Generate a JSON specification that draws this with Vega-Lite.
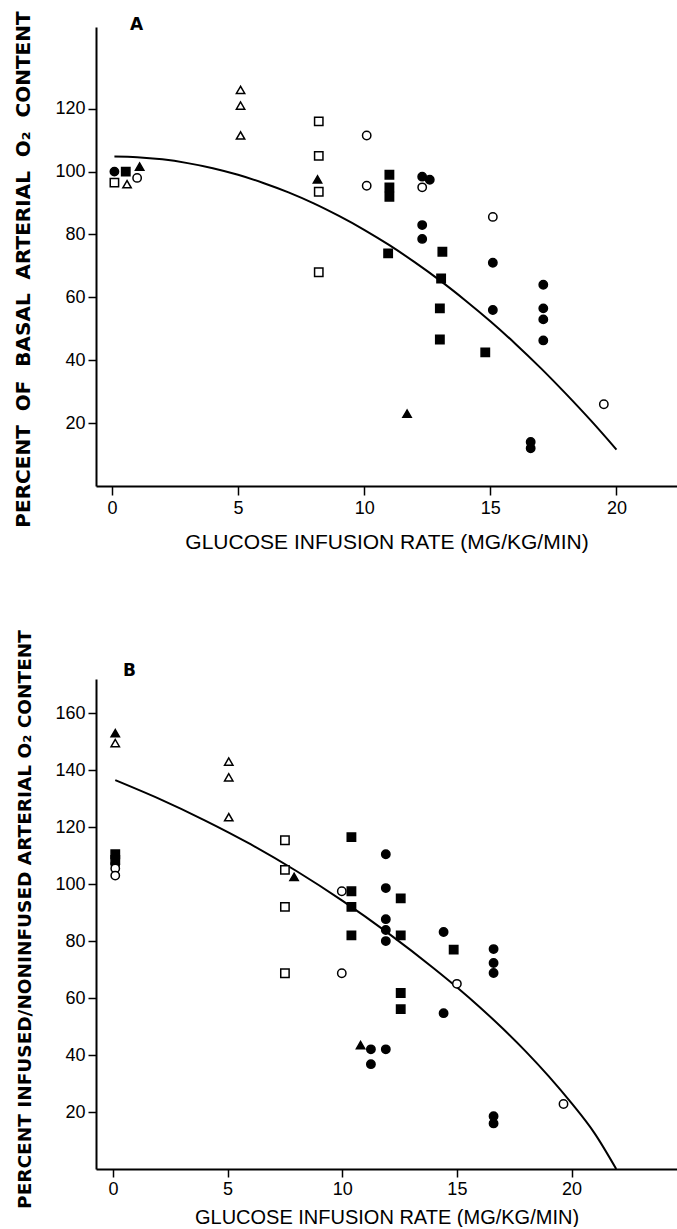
{
  "$schema": "https://vega.github.io/schema/vega-lite/v6.json",
  "background": "white",
  "padding": {"left": 12, "top": 10, "right": 0, "bottom": 0},
  "bounds": "flush",
  "spacing": 193,
  "config": {
    "view": {"stroke": null},
    "axis": {
      "grid": false,
      "domainColor": "black",
      "domainWidth": 2,
      "tickColor": "black",
      "tickWidth": 1.5,
      "labelColor": "black",
      "titleColor": "black",
      "labelFont": "Liberation Sans",
      "labelFontSize": 18,
      "labelFlush": false,
      "labelOverlap": false
    }
  },
  "datasets": {
    "curveA": [
      {"x": 0.1, "y": 104.8}, {"x": 1, "y": 104.6}, {"x": 2, "y": 103.9}, {"x": 3, "y": 102.7},
      {"x": 4, "y": 101.1}, {"x": 5, "y": 99.0}, {"x": 6, "y": 96.4}, {"x": 7, "y": 93.4},
      {"x": 8, "y": 89.9}, {"x": 9, "y": 85.9}, {"x": 10, "y": 81.5}, {"x": 11, "y": 76.6},
      {"x": 12, "y": 71.2}, {"x": 13, "y": 65.4}, {"x": 14, "y": 59.1}, {"x": 15, "y": 52.4},
      {"x": 16, "y": 45.2}, {"x": 17, "y": 37.5}, {"x": 18, "y": 29.3}, {"x": 19, "y": 20.7},
      {"x": 20, "y": 11.6}
    ],
    "ptsA": [
      {"x": 0.1, "y": 100, "shape": "circle", "fill": "filled"},
      {"x": 12.3, "y": 98.4, "shape": "circle", "fill": "filled"},
      {"x": 12.6, "y": 97.4, "shape": "circle", "fill": "filled"},
      {"x": 12.3, "y": 83, "shape": "circle", "fill": "filled"},
      {"x": 12.3, "y": 78.6, "shape": "circle", "fill": "filled"},
      {"x": 15.1, "y": 71, "shape": "circle", "fill": "filled"},
      {"x": 15.1, "y": 56, "shape": "circle", "fill": "filled"},
      {"x": 17.1, "y": 64, "shape": "circle", "fill": "filled"},
      {"x": 17.1, "y": 56.5, "shape": "circle", "fill": "filled"},
      {"x": 17.1, "y": 53, "shape": "circle", "fill": "filled"},
      {"x": 17.1, "y": 46.3, "shape": "circle", "fill": "filled"},
      {"x": 16.6, "y": 14, "shape": "circle", "fill": "filled"},
      {"x": 16.6, "y": 12, "shape": "circle", "fill": "filled"},
      {"x": 0.55, "y": 100, "shape": "square", "fill": "filled"},
      {"x": 11.0, "y": 99, "shape": "square", "fill": "filled"},
      {"x": 11.0, "y": 95, "shape": "square", "fill": "filled"},
      {"x": 11.0, "y": 92, "shape": "square", "fill": "filled"},
      {"x": 10.95, "y": 74, "shape": "square", "fill": "filled"},
      {"x": 13.1, "y": 74.5, "shape": "square", "fill": "filled"},
      {"x": 13.05, "y": 66, "shape": "square", "fill": "filled"},
      {"x": 13.0, "y": 56.5, "shape": "square", "fill": "filled"},
      {"x": 13.0, "y": 46.6, "shape": "square", "fill": "filled"},
      {"x": 14.8, "y": 42.5, "shape": "square", "fill": "filled"},
      {"x": 1.1, "y": 101.6, "shape": "triangle", "fill": "filled"},
      {"x": 8.15, "y": 97.5, "shape": "triangle", "fill": "filled"},
      {"x": 11.7, "y": 23, "shape": "triangle", "fill": "filled"},
      {"x": 1.0, "y": 98, "shape": "circle", "fill": "open"},
      {"x": 10.1, "y": 111.5, "shape": "circle", "fill": "open"},
      {"x": 10.1, "y": 95.5, "shape": "circle", "fill": "open"},
      {"x": 12.3, "y": 95, "shape": "circle", "fill": "open"},
      {"x": 15.1, "y": 85.6, "shape": "circle", "fill": "open"},
      {"x": 19.5, "y": 26, "shape": "circle", "fill": "open"},
      {"x": 0.1, "y": 96.5, "shape": "square", "fill": "open"},
      {"x": 8.2, "y": 116, "shape": "square", "fill": "open"},
      {"x": 8.2, "y": 105, "shape": "square", "fill": "open"},
      {"x": 8.2, "y": 93.6, "shape": "square", "fill": "open"},
      {"x": 8.2, "y": 68, "shape": "square", "fill": "open"},
      {"x": 0.6, "y": 96, "shape": "triangle", "fill": "open"},
      {"x": 5.1, "y": 126, "shape": "triangle", "fill": "open"},
      {"x": 5.1, "y": 121, "shape": "triangle", "fill": "open"},
      {"x": 5.1, "y": 111.5, "shape": "triangle", "fill": "open"}
    ],
    "curveB": [
      {"x": 0.1, "y": 136.5}, {"x": 2, "y": 130.0}, {"x": 4, "y": 122.4}, {"x": 6, "y": 114.0},
      {"x": 8, "y": 104.6}, {"x": 10, "y": 94.2}, {"x": 12, "y": 82.8}, {"x": 14, "y": 70.4},
      {"x": 15, "y": 63.8}, {"x": 16, "y": 56.8}, {"x": 17, "y": 49.3}, {"x": 18, "y": 41.3},
      {"x": 19, "y": 32.6}, {"x": 20, "y": 23.1}, {"x": 21, "y": 12.6}, {"x": 21.95, "y": 0}
    ],
    "ptsB": [
      {"x": 0.1, "y": 153, "shape": "triangle", "fill": "filled"},
      {"x": 7.9, "y": 102.5, "shape": "triangle", "fill": "filled"},
      {"x": 10.8, "y": 43.5, "shape": "triangle", "fill": "filled"},
      {"x": 0.1, "y": 149.5, "shape": "triangle", "fill": "open"},
      {"x": 5.05, "y": 143, "shape": "triangle", "fill": "open"},
      {"x": 5.05, "y": 137.5, "shape": "triangle", "fill": "open"},
      {"x": 5.05, "y": 123.5, "shape": "triangle", "fill": "open"},
      {"x": 0.1, "y": 110.5, "shape": "square", "fill": "filled"},
      {"x": 0.1, "y": 108.5, "shape": "square", "fill": "filled"},
      {"x": 10.4, "y": 116.5, "shape": "square", "fill": "filled"},
      {"x": 10.4, "y": 97.5, "shape": "square", "fill": "filled"},
      {"x": 10.4, "y": 92, "shape": "square", "fill": "filled"},
      {"x": 10.4, "y": 82, "shape": "square", "fill": "filled"},
      {"x": 12.55, "y": 95, "shape": "square", "fill": "filled"},
      {"x": 12.55, "y": 82, "shape": "square", "fill": "filled"},
      {"x": 12.55, "y": 61.8, "shape": "square", "fill": "filled"},
      {"x": 12.55, "y": 56.1, "shape": "square", "fill": "filled"},
      {"x": 14.86, "y": 77, "shape": "square", "fill": "filled"},
      {"x": 0.1, "y": 107, "shape": "circle", "fill": "filled"},
      {"x": 11.9, "y": 110.5, "shape": "circle", "fill": "filled"},
      {"x": 11.9, "y": 98.6, "shape": "circle", "fill": "filled"},
      {"x": 11.9, "y": 87.7, "shape": "circle", "fill": "filled"},
      {"x": 11.9, "y": 83.9, "shape": "circle", "fill": "filled"},
      {"x": 11.9, "y": 80, "shape": "circle", "fill": "filled"},
      {"x": 14.42, "y": 83.2, "shape": "circle", "fill": "filled"},
      {"x": 14.42, "y": 54.7, "shape": "circle", "fill": "filled"},
      {"x": 11.25, "y": 42, "shape": "circle", "fill": "filled"},
      {"x": 11.9, "y": 42, "shape": "circle", "fill": "filled"},
      {"x": 11.25, "y": 36.8, "shape": "circle", "fill": "filled"},
      {"x": 16.6, "y": 77.2, "shape": "circle", "fill": "filled"},
      {"x": 16.6, "y": 72.3, "shape": "circle", "fill": "filled"},
      {"x": 16.6, "y": 68.8, "shape": "circle", "fill": "filled"},
      {"x": 16.6, "y": 18.5, "shape": "circle", "fill": "filled"},
      {"x": 16.6, "y": 16, "shape": "circle", "fill": "filled"},
      {"x": 0.1, "y": 105.5, "shape": "circle", "fill": "open"},
      {"x": 0.1, "y": 103, "shape": "circle", "fill": "open"},
      {"x": 9.98, "y": 97.5, "shape": "circle", "fill": "open"},
      {"x": 9.98, "y": 68.7, "shape": "circle", "fill": "open"},
      {"x": 15.0, "y": 65, "shape": "circle", "fill": "open"},
      {"x": 19.65, "y": 22.8, "shape": "circle", "fill": "open"},
      {"x": 7.5, "y": 115.4, "shape": "square", "fill": "open"},
      {"x": 7.5, "y": 105, "shape": "square", "fill": "open"},
      {"x": 7.5, "y": 92, "shape": "square", "fill": "open"},
      {"x": 7.5, "y": 68.7, "shape": "square", "fill": "open"}
    ]
  },
  "vconcat": [
    {
      "width": 581,
      "height": 459,
      "title": {"text": "A", "anchor": "start", "frame": "group", "dx": 34, "offset": -23, "font": "DejaVu Sans", "fontSize": 17, "fontWeight": "bold", "color": "black"},
      "encoding": {
        "x": {"field": "x", "type": "quantitative",
          "scale": {"domain": [-0.63, 22.4], "nice": false, "zero": false},
          "axis": {"values": [0, 5, 10, 15, 20], "tickSize": 9, "labelPadding": 4,
            "title": "GLUCOSE INFUSION RATE (MG/KG/MIN)", "titleFont": "Liberation Sans", "titleFontSize": 21, "titleFontWeight": "normal",
            "titleY": 56, "titleBaseline": "middle"}},
        "y": {"field": "y", "type": "quantitative",
          "scale": {"domain": [0, 146], "nice": false, "zero": false},
          "axis": {"values": [20, 40, 60, 80, 100, 120], "tickSize": 8, "labelPadding": 3,
            "title": "PERCENT\u00a0 OF\u00a0 BASAL\u00a0 ARTERIAL\u00a0 O₂\u00a0 CONTENT", "titleFont": "DejaVu Sans", "titleFontSize": 20, "titleFontWeight": "bold",
            "titleX": -73, "titleY": 242, "titleAngle": -90, "titleAlign": "center", "titleBaseline": "middle"}}
      },
      "layer": [
        {"data": {"name": "curveA"}, "mark": {"type": "line", "color": "black", "strokeWidth": 2, "interpolate": "monotone"}},
        {"data": {"name": "ptsA"},
          "mark": {"type": "point", "filled": true, "size": 70, "stroke": "black", "strokeWidth": 1.5, "opacity": 1, "fillOpacity": 1, "strokeOpacity": 1},
          "encoding": {
            "shape": {"field": "shape", "type": "nominal", "scale": {"domain": ["circle", "square", "triangle"], "range": ["circle", "square", "triangle-up"]}, "legend": null},
            "fill": {"field": "fill", "type": "nominal", "scale": {"domain": ["filled", "open"], "range": ["black", "white"]}, "legend": null}
          }}
      ]
    },
    {
      "width": 581,
      "height": 490,
      "title": {"text": "B", "anchor": "start", "frame": "group", "dx": 27, "offset": -50, "font": "DejaVu Sans", "fontSize": 17, "fontWeight": "bold", "color": "black"},
      "encoding": {
        "x": {"field": "x", "type": "quantitative",
          "scale": {"domain": [-0.74, 24.6], "nice": false, "zero": false},
          "axis": {"values": [0, 5, 10, 15, 20], "tickSize": 8, "labelPadding": 3,
            "title": "GLUCOSE INFUSION RATE (MG/KG/MIN)", "titleFont": "Liberation Sans", "titleFontSize": 20, "titleFontWeight": "normal",
            "titleY": 48, "titleBaseline": "middle"}},
        "y": {"field": "y", "type": "quantitative",
          "scale": {"domain": [0, 172], "nice": false, "zero": false},
          "axis": {"values": [20, 40, 60, 80, 100, 120, 140, 160], "tickSize": 8, "labelPadding": 3,
            "title": "PERCENT INFUSED/NONINFUSED ARTERIAL O₂ CONTENT", "titleFont": "DejaVu Sans", "titleFontSize": 18.5, "titleFontWeight": "bold",
            "titleX": -72, "titleY": 240, "titleAngle": -90, "titleAlign": "center", "titleBaseline": "middle"}}
      },
      "layer": [
        {"data": {"name": "curveB"}, "mark": {"type": "line", "color": "black", "strokeWidth": 2, "interpolate": "monotone"}},
        {"data": {"name": "ptsB"},
          "mark": {"type": "point", "filled": true, "size": 70, "stroke": "black", "strokeWidth": 1.5, "opacity": 1, "fillOpacity": 1, "strokeOpacity": 1},
          "encoding": {
            "shape": {"field": "shape", "type": "nominal", "scale": {"domain": ["circle", "square", "triangle"], "range": ["circle", "square", "triangle-up"]}, "legend": null},
            "fill": {"field": "fill", "type": "nominal", "scale": {"domain": ["filled", "open"], "range": ["black", "white"]}, "legend": null}
          }}
      ]
    }
  ]
}
